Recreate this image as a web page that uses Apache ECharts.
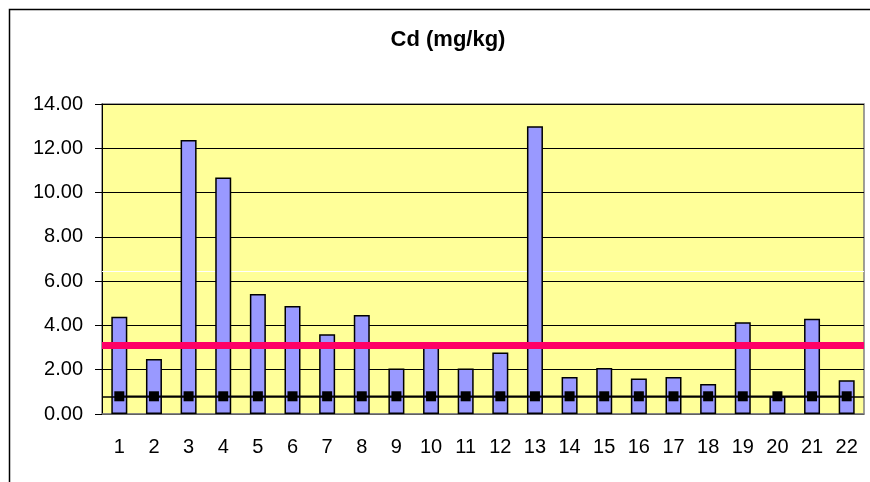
<!DOCTYPE html>
<html><head><meta charset="utf-8">
<script src="https://cdn.jsdelivr.net/npm/echarts@6/dist/echarts.min.js"></script>
<style>html,body{margin:0;padding:0;background:#fff}#c{width:870px;height:482px}</style>
</head><body><div id="c"></div>
<script>
const categories = ['1','2','3','4','5','6','7','8','9','10','11','12','13','14','15','16','17','18','19','20','21','22'];
const cdValues = [4.39,2.48,12.37,10.68,5.42,4.88,3.60,4.47,2.06,3.05,2.06,2.78,13.0,1.67,2.08,1.60,1.67,1.35,4.14,0.80,4.30,1.52];
const baselineValues = [0.8,0.8,0.8,0.8,0.8,0.8,0.8,0.8,0.8,0.8,0.8,0.8,0.8,0.8,0.8,0.8,0.8,0.8,0.8,0.8,0.8,0.8];
const baselineLevel = 0.8;
const limitLevel = 3.1;
const titleText = 'Cd (mg/kg)';

const chart = echarts.init(document.getElementById('c'), null, {renderer:'canvas'});
chart.setOption({
  animation:false,
  backgroundColor:'#fff',
  title:{text:titleText,left:443,top:24,textAlign:'center',
    textStyle:{fontFamily:'Liberation Sans, Arial',fontWeight:'bold',fontSize:22,color:'#000'}},
  graphic:[{type:'rect',left:7,top:7,shape:{width:900,height:520},style:{fill:'none',stroke:'#000',lineWidth:1.5},z:-1}],
  grid:{left:102,top:104,right:6,bottom:68,show:true,backgroundColor:'#FFFF99',borderColor:'#808080',borderWidth:1.5},
  xAxis:{type:'category',data:categories,boundaryGap:true,
    axisLine:{show:true,lineStyle:{color:'#808080',width:1.5}},axisTick:{show:false},
    axisLabel:{margin:23,fontFamily:'Liberation Sans, Arial',fontSize:20,color:'#000'},splitLine:{show:false}},
  yAxis:{type:'value',min:0,max:14,interval:2,
    axisLine:{show:true,lineStyle:{color:'#000',width:1}},
    axisTick:{show:true,length:7,lineStyle:{color:'#000'}},
    axisLabel:{margin:19,formatter:v=>v.toFixed(2),fontFamily:'Liberation Sans, Arial',fontSize:20,color:'#000'},
    splitLine:{show:true,lineStyle:{color:'#000',width:1}}},
  series:[
    {type:'bar',data:cdValues,barWidth:16,itemStyle:{color:'#9999FF',borderColor:'#000',borderWidth:1.5},z:2,
      markLine:{silent:true,symbol:'none',label:{show:false},data:[{yAxis:6.43}],lineStyle:{color:'#fff',width:1,type:'solid'},z:1}},
    {type:'line',data:baselineValues,symbol:'rect',symbolSize:10,showSymbol:true,
      itemStyle:{color:'#000'},lineStyle:{color:'#000',width:1.5},z:4,
      markLine:{silent:true,symbol:'none',label:{show:false},data:[{yAxis:baselineLevel}],lineStyle:{color:'#000',width:1.5,type:'solid'}}},
    {type:'line',data:[],z:5,
      markLine:{silent:true,symbol:'none',label:{show:false},data:[{yAxis:limitLevel}],lineStyle:{color:'#FF0066',width:7,type:'solid'}}}
  ]
});
</script></body></html>
